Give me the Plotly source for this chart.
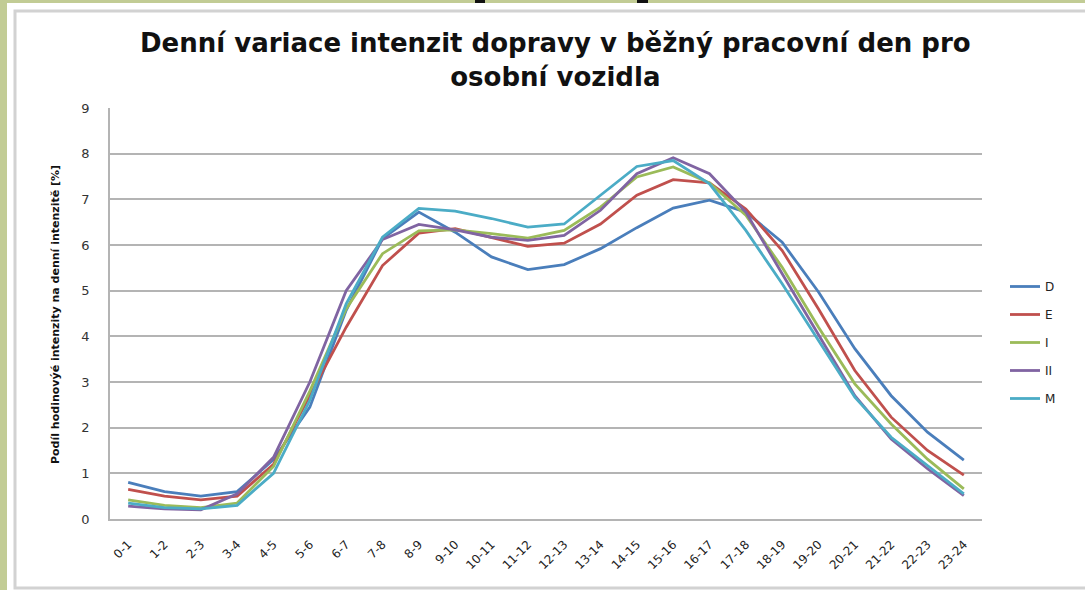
import plotly.graph_objects as go

# hodinové intervaly
hodiny = ["0-1", "1-2", "2-3", "3-4", "4-5", "5-6", "6-7", "7-8", "8-9", "9-10",
          "10-11", "11-12", "12-13", "13-14", "14-15", "15-16", "16-17", "17-18",
          "18-19", "19-20", "20-21", "21-22", "22-23", "23-24"]

# podíl hodinové intenzity [%]
D = [0.80, 0.60, 0.50, 0.60, 1.30, 2.45, 4.57, 6.14, 6.72, 6.28, 5.74, 5.46,
     5.57, 5.92, 6.38, 6.81, 6.98, 6.72, 6.06, 4.97, 3.73, 2.70, 1.90, 1.29]
E = [0.65, 0.50, 0.42, 0.50, 1.20, 2.70, 4.20, 5.55, 6.26, 6.36, 6.17, 5.97,
     6.04, 6.46, 7.09, 7.43, 7.36, 6.79, 5.88, 4.60, 3.25, 2.23, 1.50, 0.96]
I = [0.42, 0.30, 0.25, 0.35, 1.15, 2.80, 4.60, 5.81, 6.31, 6.33, 6.25, 6.15,
     6.32, 6.83, 7.49, 7.71, 7.36, 6.65, 5.51, 4.20, 2.96, 2.08, 1.31, 0.66]
II = [0.28, 0.22, 0.20, 0.55, 1.35, 3.00, 5.00, 6.12, 6.45, 6.33, 6.17, 6.10,
      6.21, 6.76, 7.56, 7.91, 7.56, 6.72, 5.37, 4.02, 2.70, 1.75, 1.10, 0.51]
M = [0.35, 0.25, 0.22, 0.30, 1.00, 2.60, 4.71, 6.17, 6.80, 6.74, 6.58, 6.39,
     6.46, 7.09, 7.72, 7.85, 7.34, 6.32, 5.15, 3.91, 2.67, 1.79, 1.17, 0.55]

serie = [("D", D, "#4a7ebb"), ("E", E, "#c0504d"), ("I", I, "#9bbb59"),
         ("II", II, "#8064a2"), ("M", M, "#4bacc6")]

W, H = 1085, 590
PL, PR, PT, PB = 110, 982, 108, 519


def px(x):
    return (x - PL) / (PR - PL)


def py(y):
    return (PB - y) / (PB - PT)


fig = go.Figure()
for name, vals, col in serie:
    fig.add_trace(go.Scatter(x=hodiny, y=vals, name=name, mode="lines",
                             legendgroup=name,
                             line=dict(color=col, width=2.8)))

shapes = [
    # zelený okraj snímku
    dict(type="rect", xref="paper", yref="paper", x0=px(0), x1=px(7),
         y0=py(H), y1=py(0), fillcolor="#c2cc95", line_width=0, layer="below"),
    dict(type="rect", xref="paper", yref="paper", x0=px(0), x1=px(W),
         y0=py(3), y1=py(0), fillcolor="#c2cc95", line_width=0, layer="below"),
    dict(type="rect", xref="paper", yref="paper", x0=px(475), x1=px(485),
         y0=py(3), y1=py(0), fillcolor="#111111", line_width=0),
    dict(type="rect", xref="paper", yref="paper", x0=px(637), x1=px(648),
         y0=py(3), y1=py(0), fillcolor="#111111", line_width=0),
    # rámeček grafu
    dict(type="rect", xref="paper", yref="paper", x0=px(15), x1=px(1100),
         y0=py(588), y1=py(11), line=dict(color="#d2d2d2", width=3),
         layer="below"),
]

fig.update_layout(
    width=W, height=H,
    paper_bgcolor="white", plot_bgcolor="white",
    margin=dict(l=PL, r=W - PR, t=PT, b=H - PB, autoexpand=False),
    font=dict(family="DejaVu Sans", color="#222222"),
    xaxis=dict(type="category", range=[-0.5, 23.5], tickangle=-45,
               showgrid=False, showline=True, linecolor="#b4b4b4",
               linewidth=1.5, ticks="", ticklabelstandoff=12,
               tickfont=dict(size=12, color="#222222")),
    yaxis=dict(range=[0, 9], dtick=1, showgrid=True, gridcolor="#b4b4b4",
               gridwidth=1.5, showline=True, linecolor="#b4b4b4",
               linewidth=1.5, zeroline=False, ticks="", ticklabelstandoff=16,
               tickfont=dict(size=13, color="#333333")),
    legend=dict(x=px(1005), y=py(272), xanchor="left", yanchor="top",
                font=dict(size=12, color="#222222"), tracegroupgap=9,
                bgcolor="rgba(0,0,0,0)"),
    shapes=shapes,
    annotations=[
        dict(text="<b>Denní variace intenzit dopravy v běžný pracovní den pro"
                  "<br>osobní vozidla</b>",
             xref="paper", yref="paper", x=px(555), y=py(26),
             xanchor="center", yanchor="top", showarrow=False,
             font=dict(size=26, color="#111111", family="DejaVu Sans")),
        dict(text="<b>Podíl hodinovýé intenzity na denní intenzitě [%]</b>",
             textangle=-90, xref="paper", yref="paper",
             x=px(55), y=py(315), xanchor="center", yanchor="middle",
             showarrow=False, font=dict(size=11, color="#111111")),
    ],
    showlegend=True,
)

fig.write_html("out.html", config={"displayModeBar": False},
               post_script="document.body.style.margin='0px';")
